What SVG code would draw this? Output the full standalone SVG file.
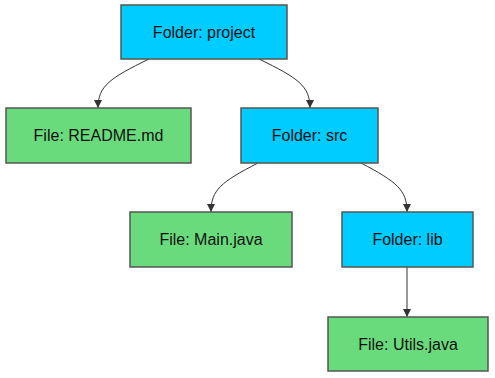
<svg xmlns="http://www.w3.org/2000/svg" width="495" height="378" viewBox="0 0 495 378">
<style>
.folder rect{fill:#00CCFF;stroke:#555;stroke-width:1.5}
.file rect{fill:#6ADB7D;stroke:#555;stroke-width:1.5}
text{font-family:"Liberation Sans",Arial,sans-serif;font-size:16px;fill:#111;text-anchor:middle;dominant-baseline:central}
.edges path{fill:none;stroke:#333;stroke-width:1}
</style>
<defs>
<marker id="arr" viewBox="0 0 10 10" refX="10" refY="5" markerWidth="8" markerHeight="8" markerUnits="userSpaceOnUse" orient="auto">
<path d="M0,0 L10,5 L0,10 z" fill="#333"/>
</marker>
</defs>
<rect width="495" height="378" fill="#fff"/>
<g class="edges">
<path d="M149,59 C110,78 98,86 98,108" marker-end="url(#arr)"/>
<path d="M259,59 C298,78 310,86 310,108" marker-end="url(#arr)"/>
<path d="M258,163 C221,182 211,190 211,212" marker-end="url(#arr)"/>
<path d="M361,163 C397,182 407,190 407,212" marker-end="url(#arr)"/>
<path d="M407,267 L407,317" marker-end="url(#arr)"/>
</g>
<g id="project" class="folder"><rect x="121" y="5" width="166" height="54"/><text x="204" y="32">Folder: project</text></g>
<g id="readme" class="file"><rect x="6" y="108" width="185" height="55"/><text x="98.5" y="135.5">File: README.md</text></g>
<g id="src" class="folder"><rect x="241" y="108" width="137" height="55"/><text x="309.5" y="135.5">Folder: src</text></g>
<g id="main" class="file"><rect x="130" y="212" width="162" height="55"/><text x="211" y="239.5">File: Main.java</text></g>
<g id="lib" class="folder"><rect x="342" y="212" width="131" height="55"/><text x="407.5" y="239.5">Folder: lib</text></g>
<g id="utils" class="file"><rect x="328" y="317" width="160" height="54"/><text x="408" y="344">File: Utils.java</text></g>
</svg>
